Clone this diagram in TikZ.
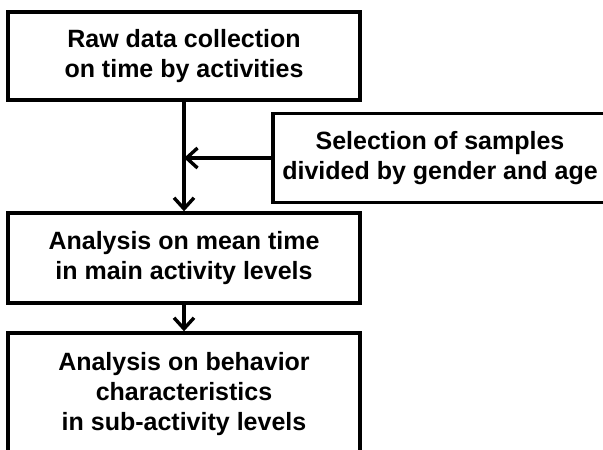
\documentclass[tikz,border=0pt]{standalone}
\usepackage{fontspec}
\setmainfont{Liberation Sans}
\usetikzlibrary{arrows.meta}
\begin{document}
\begin{tikzpicture}[x=1pt, y=1pt,
    box/.style={draw, line width=3.4pt, align=center, inner sep=0pt,
        font=\bfseries\fontsize{25}{30}\selectfont},
    flow/.style={line width=3.4pt, -{Straight Barb[length=11pt, width=20pt]}}]
    \useasboundingbox (0,0) rectangle (603,-450);
    % boxes
    \node[box, minimum width=352, minimum height=88] (raw) at (184,-56) {Raw data collection\\on time by activities};
    \node[box, minimum width=334, minimum height=89] (sel) at (440,-158) {Selection of samples\\divided by gender and age};
    \node[box, minimum width=352, minimum height=90] (mean) at (184,-258) {Analysis on mean time\\in main activity levels};
    \node[box, minimum width=352, minimum height=122] (sub) at (184,-394) {Analysis on behavior\\characteristics\\in sub-activity levels};
    % arrows
    \coordinate (join) at (raw.south |- sel.west);
    \draw[flow] (raw.south) -- (mean.north);
    \draw[flow] (sel.west) -- (join);
    \draw[flow] (mean.south) -- (sub.north);
\end{tikzpicture}
\end{document}
